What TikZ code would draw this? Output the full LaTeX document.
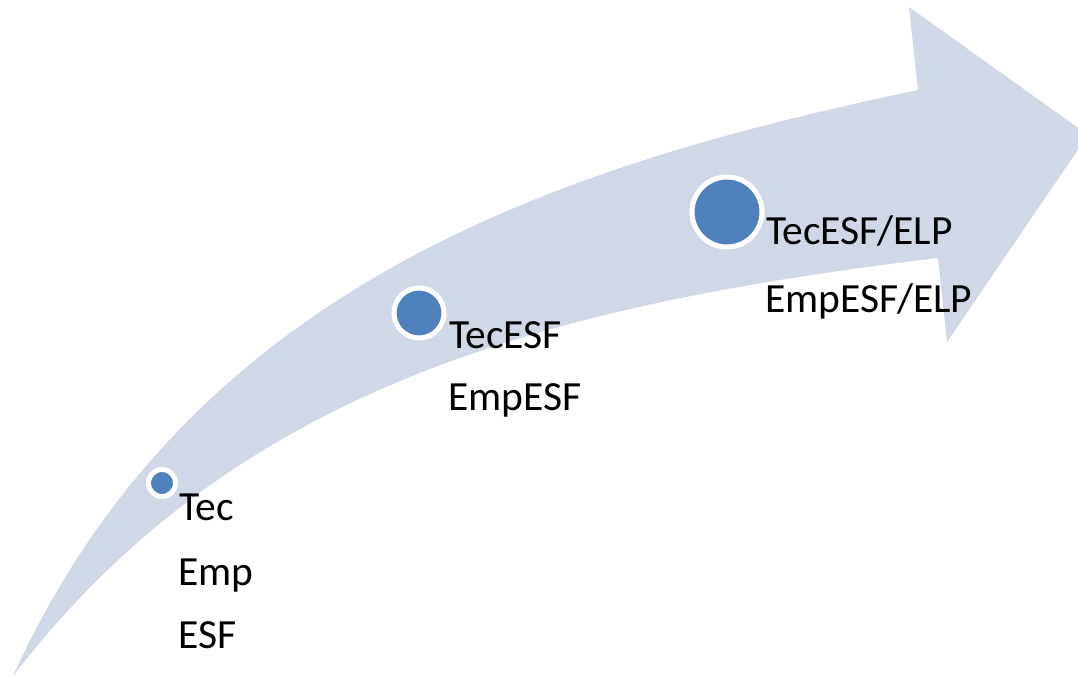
\documentclass[tikz,border=0pt]{standalone}
\usepackage{fontspec}
\setmainfont{Carlito}
\definecolor{arrowfill}{HTML}{D0D8E8}
\definecolor{dotblue}{HTML}{4F81BD}
\begin{document}
\begin{tikzpicture}[x=1pt,y=-1pt,
  stagedot/.style={circle, fill=dotblue, draw=white, line width=5pt, inner sep=0pt},
  steptext/.style={anchor=base west, inner sep=0pt, font=\fontsize{41.5}{48}\selectfont, text=black}]
\useasboundingbox (0,0) rectangle (1078,676);
\begin{scope}
\clip (0,0) rectangle (1078,676);
% curved upward arrow
\fill[arrowfill]
  (13,676) .. controls (193,280) and (568,163.5) .. (918,90)
  -- (909,7) -- (1088,135) -- (947,342) -- (938,258)
  .. controls (538,306) and (233,390) .. (13,676)
  -- cycle;
\end{scope}
% stage markers
\node[stagedot, minimum size=27pt] (d1) at (162,483) {};
\node[stagedot, minimum size=50pt] (d2) at (419,313) {};
\node[stagedot, minimum size=70pt] (d3) at (727,212) {};
% stage labels
\node[steptext] (t1a) at (179,520) {Tec};
\node[steptext] (t1b) at (178,585) {Emp};
\node[steptext] (t1c) at (178,648) {ESF};
\node[steptext] (t2a) at (449,348) {TecESF};
\node[steptext] (t2b) at (448,410) {EmpESF};
\node[steptext] (t3a) at (766,245) {TecESF/ELP};
\node[steptext] (t3b) at (765,312) {EmpESF/ELP};
\end{tikzpicture}
\end{document}
